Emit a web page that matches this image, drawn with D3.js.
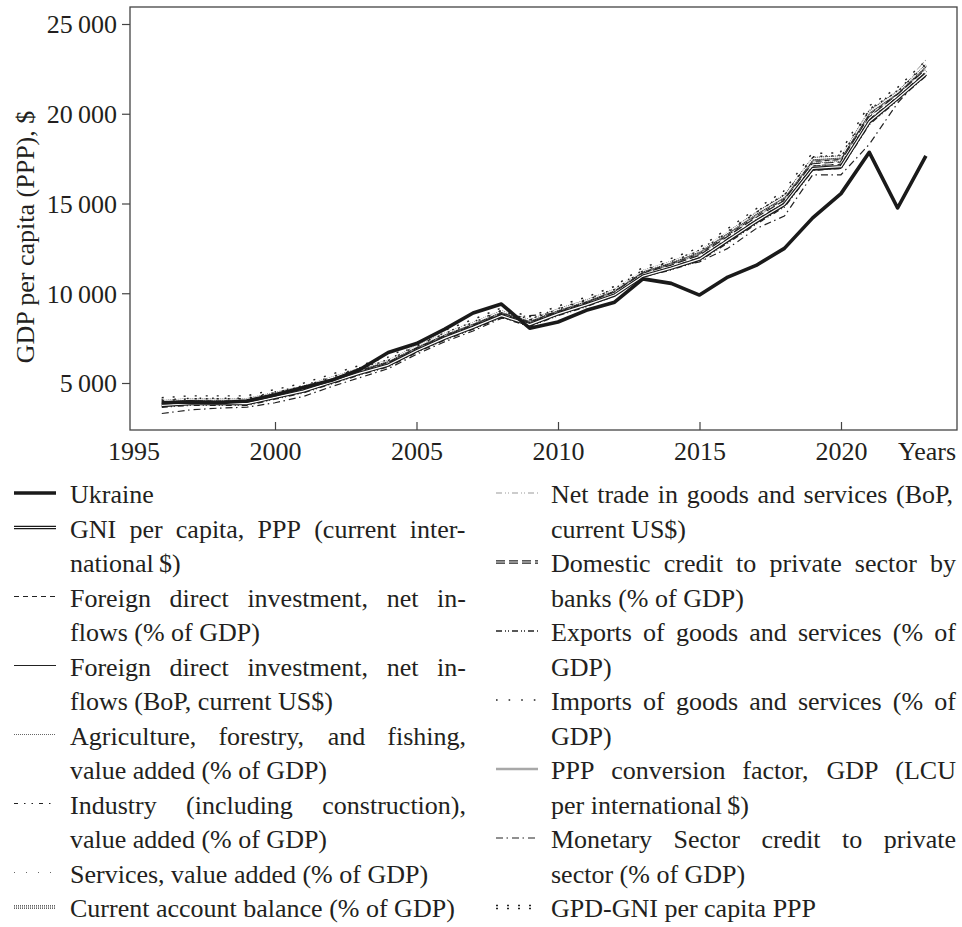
<!DOCTYPE html>
<html><head><meta charset="utf-8">
<script src="https://cdn.jsdelivr.net/npm/d3@7"></script>
</head><body style="margin:0">
<svg id="c" width="962" height="927" style="display:block;background:#fff"></svg>
<script>
// ---------- DATA ----------
const years = [1996,1997,1998,1999,2000,2001,2002,2003,2004,2005,2006,2007,2008,2009,2010,2011,2012,2013,2014,2015,2016,2017,2018,2019,2020,2021,2022,2023];
const xTickLabels = [1995,2000,2005,2010,2015,2020];
const yTickLabels = [5000,10000,15000,20000,25000];

const ukraine   = [3900,3950,3900,4000,4350,4750,5150,5750,6700,7200,8000,8900,9400,8050,8400,9050,9500,10800,10550,9900,10900,11550,12500,14200,15550,17850,14750,17650];
const gni       = [3750,3850,3850,3850,4200,4550,5050,5550,6000,6800,7500,8100,8750,8250,8850,9350,9900,10950,11400,11900,12950,14000,14950,16950,17050,19550,20850,22200];
const fdiPct    = [3900,4000,4000,4000,4350,4700,5200,5700,6150,6950,7650,8250,8900,8400,9000,9500,10100,11150,11650,12200,13250,14300,15250,17350,17450,19950,21100,22550];
const fdiBop    = [3700,3800,3800,3800,4150,4500,5000,5500,5950,6750,7450,8050,8700,8200,8800,9300,9900,10950,11350,11850,12850,13900,14850,16850,16950,19450,20800,22150];
const agri      = [3850,3950,3950,3950,4300,4650,5150,5650,6100,6900,7600,8200,8850,8350,8950,9450,10050,11100,11600,12150,13200,14250,15200,17250,17350,19850,21050,22500];
const industry  = [3750,3850,3850,3900,4200,4550,5050,5550,6000,6800,7500,8100,8750,8250,8850,9350,9950,11000,11450,12000,13050,14100,15050,17100,17200,19700,20950,22350];
const services  = [3950,4050,4050,4050,4400,4750,5250,5750,6200,7000,7700,8300,8950,8450,9050,9550,10150,11200,11700,12300,13350,14400,15350,17450,17550,20050,21150,22650];
const currentAcc= [4000,4100,4100,4100,4450,4800,5300,5800,6250,7050,7750,8350,9000,8500,9100,9600,10200,11250,11750,12350,13400,14450,15400,17500,17600,20100,21200,22700];
const netTrade  = [3850,3950,3950,3950,4300,4650,5150,5650,6100,6900,7600,8200,8850,8350,8950,9450,10050,11100,11600,12200,13300,14350,15300,17300,17450,20000,21200,23000];
const domestic  = [3800,3900,3900,3900,4250,4600,5100,5600,6050,6850,7550,8150,8800,8300,8900,9400,10000,11050,11500,12050,13100,14150,15100,17150,17250,19750,21000,22400];
const exportsS  = [3650,3750,3750,3750,4100,4450,4950,5450,5900,6700,7400,8000,8650,8150,8750,9250,9850,10900,11300,11800,12800,13850,14800,16850,16950,19400,20750,22100];
const importsS  = [4050,4150,4150,4150,4500,4850,5350,5850,6300,7100,7800,8400,9050,8550,9150,9650,10250,11300,11800,12400,13450,14550,15500,17600,17700,20250,21300,22800];
const pppConv   = [3950,4050,4050,4050,4400,4750,5250,5750,6200,7000,7700,8300,8950,8450,9050,9550,10150,11200,11650,12250,13350,14400,15350,17400,17500,20050,21150,22650];
const monetary  = [3300,3500,3600,3650,3900,4250,4800,5300,5800,6600,7300,7900,8600,8750,8900,9350,9950,11000,11400,11750,12500,13600,14300,16600,16600,18300,20600,22300];
const gpdGni    = [4100,4200,4200,4200,4550,4900,5400,5900,6350,7150,7850,8450,9100,8600,9200,9700,10300,11350,11850,12450,13500,14600,15600,17700,17750,20350,21350,22850];

const leftLegend = [
  {key:"ukraine",  lines:["Ukraine"]},
  {key:"gni",      lines:["GNI per capita, PPP (current inter-","national\u2009$)"]},
  {key:"fdiPct",   lines:["Foreign direct investment, net in-","flows (% of GDP)"]},
  {key:"fdiBop",   lines:["Foreign direct investment, net in-","flows (BoP, current US$)"]},
  {key:"agri",     lines:["Agriculture, forestry, and fishing,","value added (% of GDP)"]},
  {key:"industry", lines:["Industry (including construction),","value added (% of GDP)"]},
  {key:"services", lines:["Services, value added (% of GDP)"]},
  {key:"currentAcc",lines:["Current account balance (% of GDP)"]}
];
const rightLegend = [
  {key:"netTrade", lines:["Net trade in goods and services (BoP,","current US$)"]},
  {key:"domestic", lines:["Domestic credit to private sector by","banks (% of GDP)"]},
  {key:"exportsS", lines:["Exports of goods and services (% of","GDP)"]},
  {key:"importsS", lines:["Imports of goods and services (% of","GDP)"]},
  {key:"pppConv",  lines:["PPP conversion factor, GDP (LCU","per international\u2009$)"]},
  {key:"monetary", lines:["Monetary Sector credit to private","sector (% of GDP)"]},
  {key:"gpdGni",   lines:["GPD-GNI per capita PPP"]}
];

const seriesData = {ukraine,gni,fdiPct,fdiBop,agri,industry,services,currentAcc,netTrade,domestic,exportsS,importsS,pppConv,monetary,gpdGni};

// ---------- STYLES ----------
const FONT = '"Liberation Serif"';
const TXT = "#231f20";
const styles = {
  ukraine:   [{c:"#1a1a1a", w:3.6}],
  gni:       [{c:"#1a1a1a", w:3.4},{c:"#fff", w:1.2}],
  fdiPct:    [{c:"#222", w:1, d:"5,4"}],
  fdiBop:    [{c:"#222", w:1}],
  agri:      [{c:"#666", w:1, d:"1,1"}],
  industry:  [{c:"#222", w:1, d:"4,6,1.5,6,1.5,6"}],
  services:  [{c:"#666", w:1, d:"1,11"}],
  currentAcc:[{c:"#333", w:3.4, d:"1,1"},{c:"#fff", w:1.1}],
  netTrade:  [{c:"#999", w:1.2, d:"6,3,1,2,1,3"}],
  domestic:  [{c:"#222", w:3.4, d:"9,4"},{c:"#fff", w:1.1}],
  exportsS:  [{c:"#222", w:1.3, d:"6,3,1,2,1,3"}],
  importsS:  [{c:"#222", w:1.4, d:"1.6,11"}],
  pppConv:   [{c:"#a8a8a8", w:2.4}],
  monetary:  [{c:"#222", w:1.2, d:"7,3.5,1.5,4"}],
  gpdGni:    [{c:"#222", w:4.4, d:"2,9"},{c:"#fff", w:1.5}]
};

// Times-compatible advance widths (per 1000 em) used for justified legend lines
const W = {" ":250,"\u2009":200,"!":333,"$":500,"%":833,"(":333,")":333,",":250,"-":333,".":250,":":278,
"A":722,"B":667,"C":667,"D":722,"E":611,"F":556,"G":722,"H":722,"I":333,"J":389,"K":722,"L":611,"M":889,"N":722,"O":722,"P":556,"Q":722,"R":667,"S":556,"T":611,"U":722,"V":722,"W":944,"X":722,"Y":722,"Z":611,
"a":444,"b":500,"c":444,"d":500,"e":444,"f":333,"g":500,"h":500,"i":278,"j":278,"k":500,"l":278,"m":778,"n":500,"o":500,"p":500,"q":500,"r":333,"s":389,"t":278,"u":500,"v":500,"w":722,"x":500,"y":500,"z":444};
const wordWidth = (s, size) => d3.sum(Array.from(s), ch => (W[ch] ?? 500)) * size / 1000;

// ---------- CHART ----------
const svg = d3.select("#c").attr("font-family", FONT);
const frame = {l:130, r:957, t:7, b:430};
const x = d3.scaleLinear().domain([1995, 2020]).range([133.5, 841]);
const y = d3.scaleLinear().domain([0, 25000]).range([472.75, 24]);

const fmt = v => d3.format(",")(v).replace(",", "\u2009");
const tx = sel => sel.attr("font-family", FONT).attr("fill", TXT);

const yAxis = svg.append("g").attr("transform",`translate(${frame.l},0)`)
  .call(d3.axisLeft(y).tickValues(yTickLabels).tickSize(8).tickPadding(5).tickFormat(fmt));
yAxis.attr("font-family", FONT).attr("font-size", null);
yAxis.select(".domain").remove();
yAxis.selectAll(".tick line").attr("stroke","#444").attr("stroke-width",1.2);
tx(yAxis.selectAll(".tick text")).attr("font-size",26).attr("dy","0.34em");

const xAxis = svg.append("g").attr("transform",`translate(0,${frame.b})`)
  .call(d3.axisBottom(x).tickValues(xTickLabels).tickSize(-8).tickPadding(0).tickFormat(d3.format("d")));
xAxis.attr("font-family", FONT).attr("font-size", null);
xAxis.select(".domain").remove();
xAxis.selectAll(".tick line").attr("stroke","#444").attr("stroke-width",1.2)
  .attr("opacity", d => d === 1995 ? 0 : 1);
tx(xAxis.selectAll(".tick text")).attr("font-size",26).attr("y",30).attr("dy",0);

tx(svg.append("text")).attr("x",927).attr("y",460).attr("text-anchor","middle").attr("font-size",26).text("Years");

tx(svg.append("text")).attr("transform",`translate(34,237) rotate(-90)`).attr("text-anchor","middle").attr("font-size",26)
  .text("GDP per capita (PPP), $");

// lines
const line = d3.line().x((d,i)=>x(years[i])).y(d=>y(d));
const order = ["pppConv","netTrade","agri","services","currentAcc","gpdGni","importsS","domestic","fdiPct","industry","exportsS","monetary","fdiBop","gni","ukraine"];
const plot = svg.append("g");
order.forEach(k=>{
  styles[k].forEach(s=>{
    plot.append("path").datum(seriesData[k]).attr("d",line)
      .attr("fill","none").attr("stroke",s.c).attr("stroke-width",s.w)
      .attr("stroke-dasharray",s.d||null).attr("stroke-linejoin","round");
  });
});

svg.append("rect").attr("x",frame.l).attr("y",frame.t).attr("width",frame.r-frame.l).attr("height",frame.b-frame.t)
  .attr("fill","none").attr("stroke","#444").attr("stroke-width",1.3);

// ---------- LEGEND ----------
const pitch = 34.5, firstBase = 503, fs = 26;
function txt(g){ return tx(g.append("text")).attr("font-size",fs); }
function justify(g, str, x0, x1, yb){
  const words = str.split(" ");
  const widths = words.map(w => wordWidth(w, fs));
  const gap = (x1 - x0 - d3.sum(widths)) / (words.length - 1);
  const t = txt(g).attr("y", yb);
  let cx = x0;
  words.forEach((w,i)=>{ t.append("tspan").attr("x",cx.toFixed(1)).text(w); cx += widths[i] + gap; });
}
function drawLegend(entries, sx0, sx1, tx0, tx1){
  let row = 0;
  const g = svg.append("g");
  entries.forEach(e=>{
    const sy = firstBase + row*pitch - 10;
    styles[e.key].forEach(s=>{
      g.append("line").attr("x1",sx0).attr("x2",sx1).attr("y1",sy).attr("y2",sy)
        .attr("stroke",s.c).attr("stroke-width",s.w).attr("stroke-dasharray",s.d||null);
    });
    e.lines.forEach((ln,i)=>{
      const yy = firstBase + row*pitch;
      if (i < e.lines.length-1) justify(g, ln, tx0, tx1, yy);
      else txt(g).attr("x",tx0).attr("y",yy).text(ln);
      row++;
    });
  });
}
drawLegend(leftLegend, 14, 56, 70, 466);
drawLegend(rightLegend, 496, 538, 551, 956);
</script>
</body></html>
